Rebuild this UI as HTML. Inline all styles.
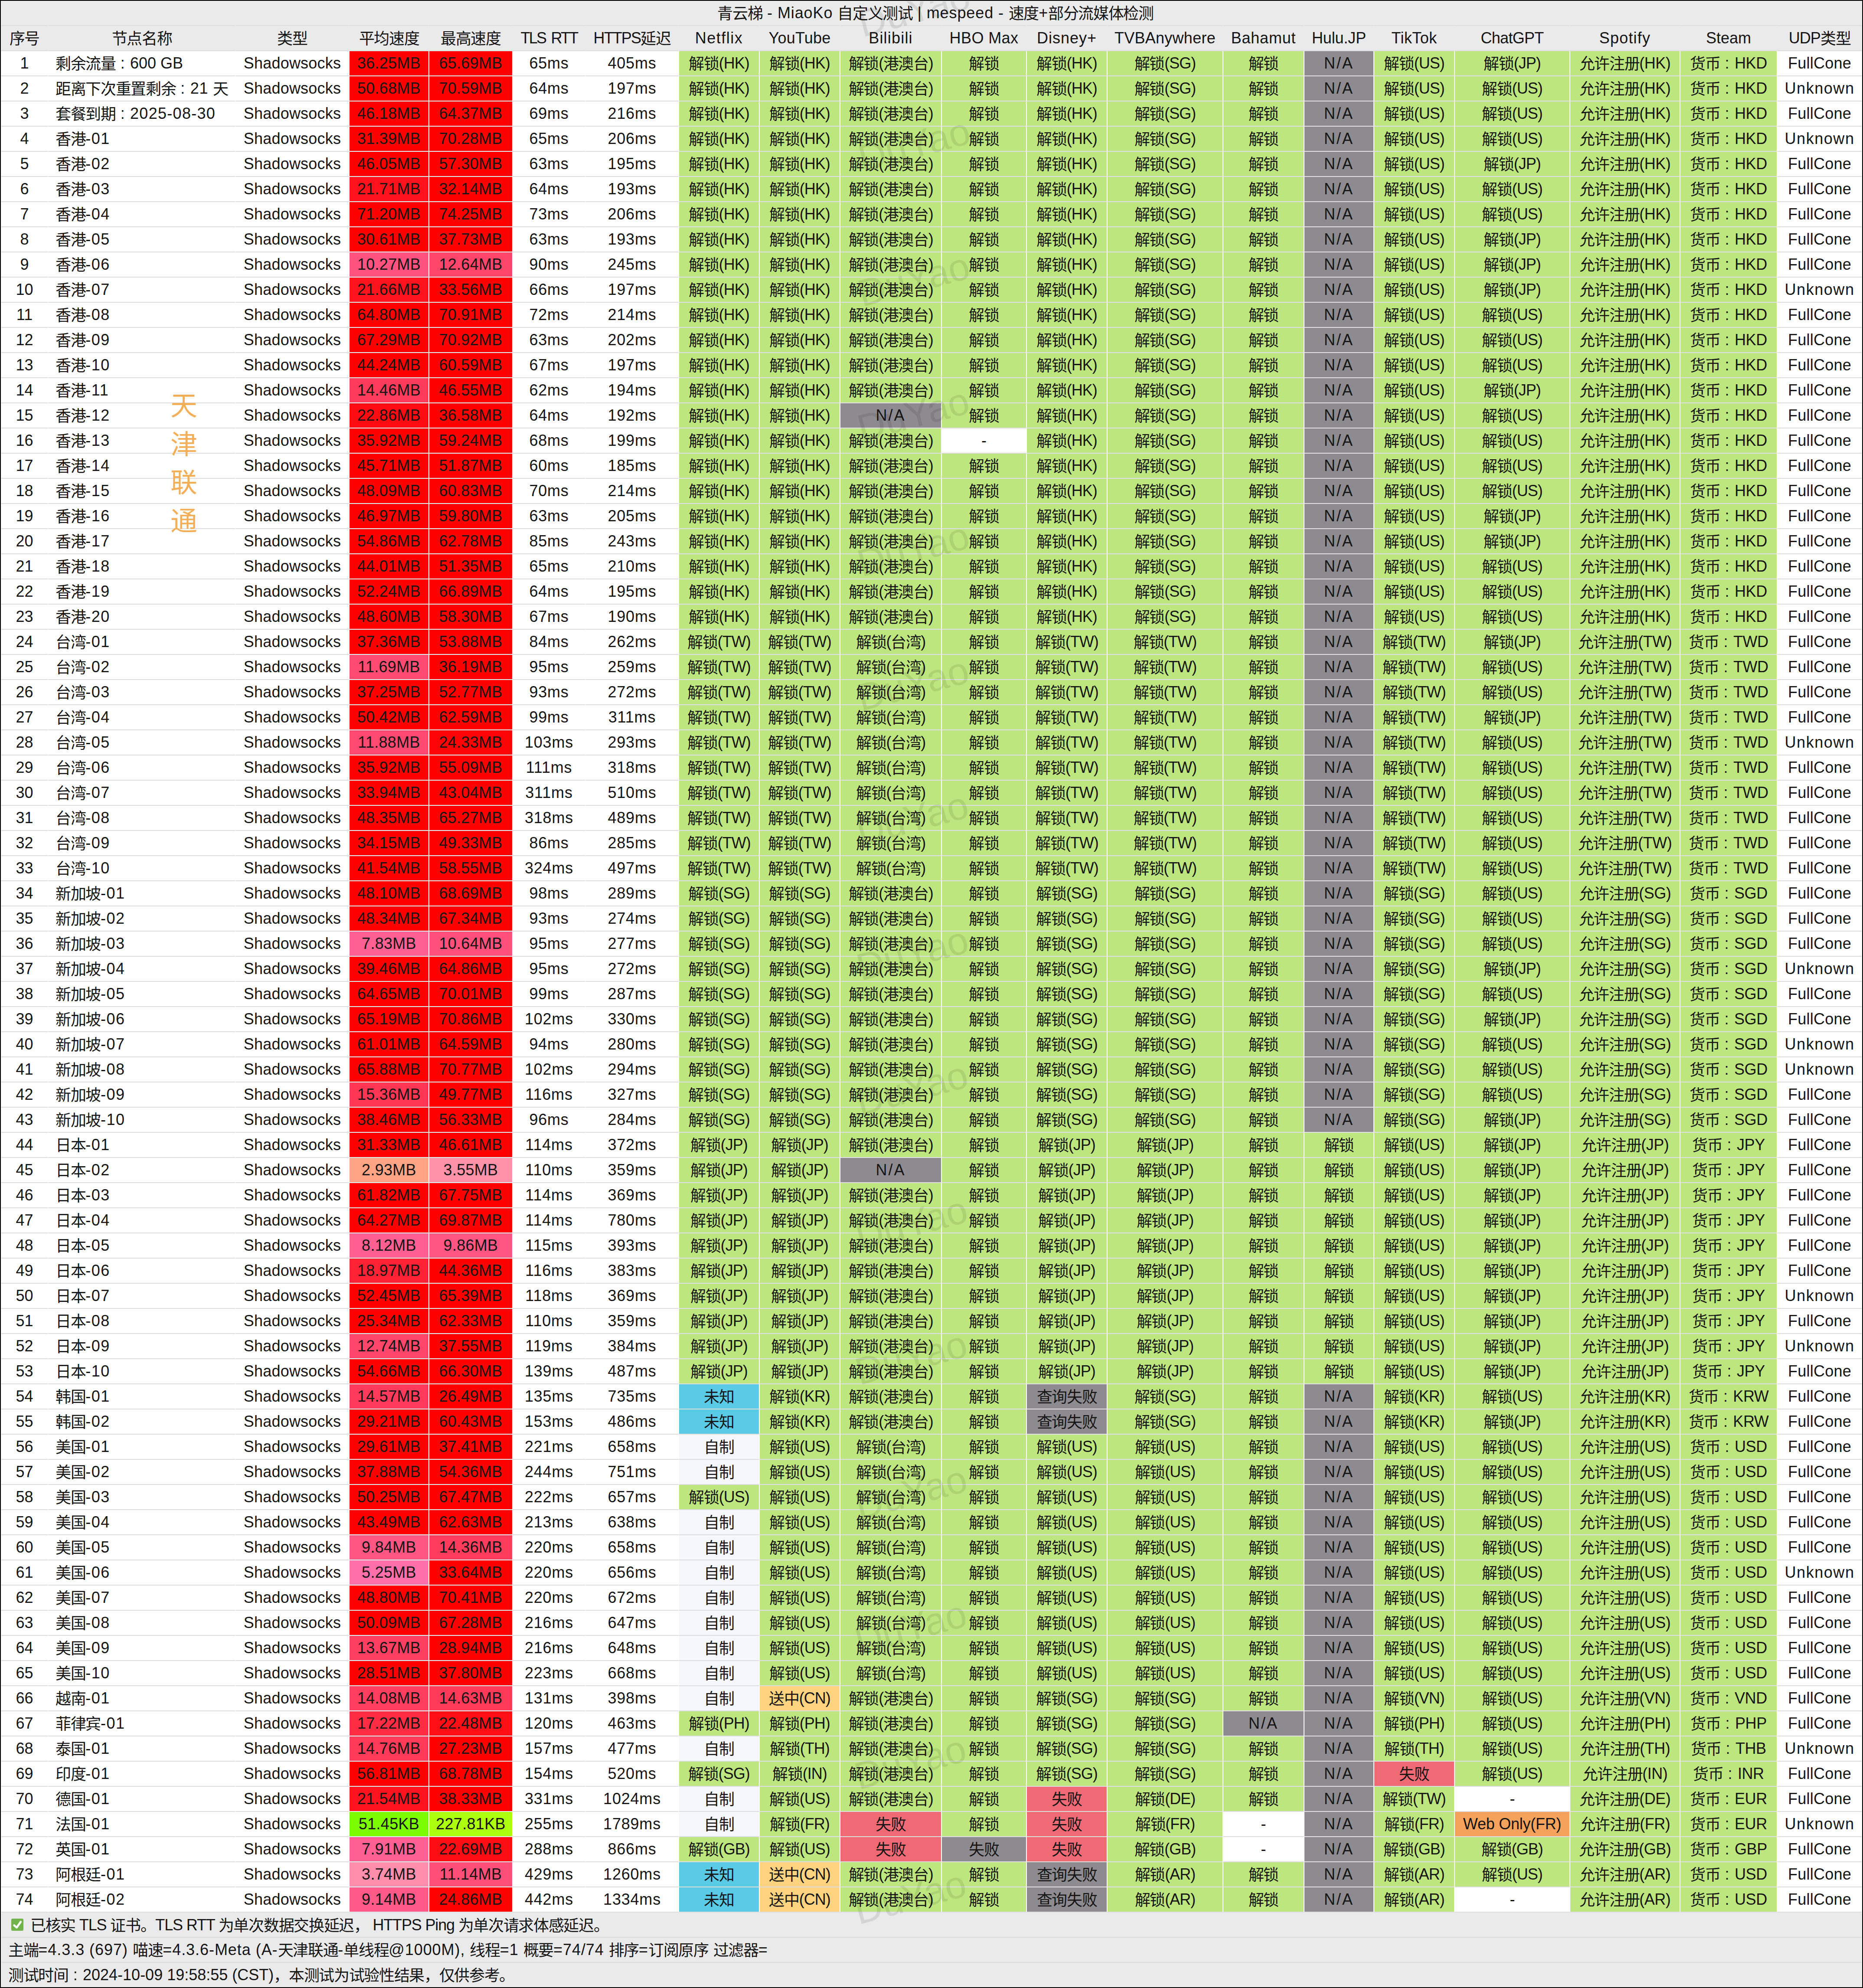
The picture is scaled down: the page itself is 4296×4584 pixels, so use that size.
<!DOCTYPE html>
<html lang="zh-CN"><head><meta charset="utf-8"><title>MiaoKo</title>
<style>

html,body{margin:0;padding:0;background:#000;}
body{width:4296px;height:4584px;position:relative;overflow:hidden;font-family:"Liberation Sans",sans-serif;font-size:36px;color:#151515;}
#fr{position:absolute;left:2px;top:2px;width:4292px;height:4580px;background:#fff;overflow:hidden;}
#t{position:absolute;left:0;top:-1px;width:4292px;}
.r{display:flex;height:58px;width:4292px;}
.r>div{box-sizing:border-box;height:58px;line-height:56px;text-align:center;white-space:nowrap;overflow:hidden;border:1px solid #fff;border-top-color:#ddd;border-bottom-color:#ddd;background:#fff;flex:0 0 auto;}
i{font-style:normal;position:relative;top:2px;font-size:36px;letter-spacing:-1.33px;}
b{display:inline-block;width:34.67px;margin-left:-1.33px;text-align:center;font-weight:normal;letter-spacing:0;}
.h>div{background:#eaeaea;border-color:#eaeaea;border-top:2px solid #dedede;border-bottom:1px solid #dcdcdc;line-height:55px;margin-top:-1px;height:59px;}
.tt{height:58px;line-height:58px;text-align:center;background:#eaeaea;width:4292px;box-sizing:border-box;padding-left:18px;letter-spacing:0.9px;}
.f{height:58px;line-height:57px;box-sizing:border-box;background:#eaeaea;border-top:1px solid #ddd;border-bottom:1px solid #ddd;padding-left:17px;white-space:nowrap;width:4292px;}
.g{background:#bde77e!important;border-top-color:#e0dde8!important;border-bottom-color:#e0dde8!important;}
.n{background:#8e8b90!important;border-top-color:#e2e2e2!important;border-bottom-color:#e2e2e2!important;}
.k{background:#5acbe7!important;}
.s{background:#f6f6fd!important;}
.o{background:#ffd37f!important;}
.x{background:#f06a75!important;}
.w{background:#f5a35c!important;}
.p{border-top-color:#dbf3f3!important;border-bottom-color:#dbf3f3!important;}
.nm{text-align:left!important;padding-left:16px;letter-spacing:1.5px;}
#vt{position:absolute;left:391px;top:891px;width:62px;font-size:62px;line-height:88.5px;color:#f3af58;text-align:center;}
.wm{position:absolute;left:1854px;width:500px;height:100px;line-height:100px;margin-top:-50px;text-align:center;font-size:88px;color:rgba(0,0,0,0.09);transform:rotate(-15deg);}
.r>div:nth-child(1){width:109px}
.r>div:nth-child(2){width:432px}
.r>div:nth-child(3){width:262px;letter-spacing:0.2px}
.r>div:nth-child(4){width:184px;letter-spacing:0.3px}
.r>div:nth-child(5){width:193px;letter-spacing:0.3px}
.r>div:nth-child(6){width:168px;letter-spacing:0.8px}
.r>div:nth-child(7){width:215px;letter-spacing:0.8px}
.r>div:nth-child(8){width:186px;letter-spacing:-1px}
.r>div:nth-child(9){width:186px;letter-spacing:-1px}
.r>div:nth-child(10){width:234px;letter-spacing:-1.5px}
.r>div:nth-child(11){width:196px}
.r>div:nth-child(12){width:186px;letter-spacing:-1px}
.r>div:nth-child(13){width:267px;letter-spacing:-1px}
.r>div:nth-child(14){width:187px}
.r>div:nth-child(15){width:161px}
.r>div:nth-child(16){width:186px;letter-spacing:-1px}
.r>div:nth-child(17){width:266px;letter-spacing:-1px}
.r>div:nth-child(18){width:254px;letter-spacing:-0.5px}
.r>div:nth-child(19){width:224px;letter-spacing:-0.4px}
.r>div:nth-child(20){width:196px;letter-spacing:0.25px}
.r>div.n{letter-spacing:3px}
.h>div{letter-spacing:0}
</style></head><body><div id="fr"><div id="t">
<div class="tt"><i>青云梯</i> - MiaoKo <i>自定义测试</i> | mespeed - <i>速度</i>+<i>部分流媒体检测</i></div>
<div class="r h"><div style="letter-spacing:0px"><i>序号</i></div><div style="letter-spacing:0px"><i>节点名称</i></div><div style="letter-spacing:0px"><i>类型</i></div><div style="letter-spacing:0px"><i>平均速度</i></div><div style="letter-spacing:0px"><i>最高速度</i></div><div style="letter-spacing:-2.8px;word-spacing:5px">TLS RTT</div><div style="letter-spacing:-1.9px">HTTPS<i>延迟</i></div><div style="letter-spacing:1.5px">Netflix</div><div style="letter-spacing:0.2px">YouTube</div><div style="letter-spacing:1.2px">Bilibili</div><div style="letter-spacing:0.4px">HBO Max</div><div style="letter-spacing:1px">Disney+</div><div style="letter-spacing:0.25px">TVBAnywhere</div><div style="letter-spacing:0.8px">Bahamut</div><div style="letter-spacing:-0.15px">Hulu.JP</div><div style="letter-spacing:0.4px">TikTok</div><div style="letter-spacing:-0.75px">ChatGPT</div><div style="letter-spacing:1.2px">Spotify</div><div style="letter-spacing:0px">Steam</div><div style="letter-spacing:-0.9px">UDP<i>类型</i></div></div>
<div class="r"><div>1</div><div class="nm" style="letter-spacing:0"><i>剩余流量</i><b>:</b>600 GB</div><div>Shadowsocks</div><div class="p" style="background:#ff0000">36.25MB</div><div class="p" style="background:#ff0000">65.69MB</div><div>65ms</div><div>405ms</div><div class="g"><i>解锁</i>(HK)</div><div class="g"><i>解锁</i>(HK)</div><div class="g"><i>解锁</i>(<i>港澳台</i>)</div><div class="g"><i>解锁</i></div><div class="g"><i>解锁</i>(HK)</div><div class="g"><i>解锁</i>(SG)</div><div class="g"><i>解锁</i></div><div class="n">N/A</div><div class="g"><i>解锁</i>(US)</div><div class="g"><i>解锁</i>(JP)</div><div class="g"><i>允许注册</i>(HK)</div><div class="g"><i>货币</i><b>:</b>HKD</div><div>FullCone</div></div>
<div class="r"><div>2</div><div class="nm" style="letter-spacing:.9px"><i>距离下次重置剩余</i><b>:</b>21 <i>天</i></div><div>Shadowsocks</div><div class="p" style="background:#ff0000">50.68MB</div><div class="p" style="background:#ff0000">70.59MB</div><div>64ms</div><div>197ms</div><div class="g"><i>解锁</i>(HK)</div><div class="g"><i>解锁</i>(HK)</div><div class="g"><i>解锁</i>(<i>港澳台</i>)</div><div class="g"><i>解锁</i></div><div class="g"><i>解锁</i>(HK)</div><div class="g"><i>解锁</i>(SG)</div><div class="g"><i>解锁</i></div><div class="n">N/A</div><div class="g"><i>解锁</i>(US)</div><div class="g"><i>解锁</i>(US)</div><div class="g"><i>允许注册</i>(HK)</div><div class="g"><i>货币</i><b>:</b>HKD</div><div style="letter-spacing:1.55px">Unknown</div></div>
<div class="r"><div>3</div><div class="nm" style="letter-spacing:1.3px"><i>套餐到期</i><b>:</b>2025-08-30</div><div>Shadowsocks</div><div class="p" style="background:#ff0000">46.18MB</div><div class="p" style="background:#ff0000">64.37MB</div><div>69ms</div><div>216ms</div><div class="g"><i>解锁</i>(HK)</div><div class="g"><i>解锁</i>(HK)</div><div class="g"><i>解锁</i>(<i>港澳台</i>)</div><div class="g"><i>解锁</i></div><div class="g"><i>解锁</i>(HK)</div><div class="g"><i>解锁</i>(SG)</div><div class="g"><i>解锁</i></div><div class="n">N/A</div><div class="g"><i>解锁</i>(US)</div><div class="g"><i>解锁</i>(US)</div><div class="g"><i>允许注册</i>(HK)</div><div class="g"><i>货币</i><b>:</b>HKD</div><div>FullCone</div></div>
<div class="r"><div>4</div><div class="nm"><i>香港</i>-01</div><div>Shadowsocks</div><div class="p" style="background:#ff0000">31.39MB</div><div class="p" style="background:#ff0000">70.28MB</div><div>65ms</div><div>206ms</div><div class="g"><i>解锁</i>(HK)</div><div class="g"><i>解锁</i>(HK)</div><div class="g"><i>解锁</i>(<i>港澳台</i>)</div><div class="g"><i>解锁</i></div><div class="g"><i>解锁</i>(HK)</div><div class="g"><i>解锁</i>(SG)</div><div class="g"><i>解锁</i></div><div class="n">N/A</div><div class="g"><i>解锁</i>(US)</div><div class="g"><i>解锁</i>(US)</div><div class="g"><i>允许注册</i>(HK)</div><div class="g"><i>货币</i><b>:</b>HKD</div><div style="letter-spacing:1.55px">Unknown</div></div>
<div class="r"><div>5</div><div class="nm"><i>香港</i>-02</div><div>Shadowsocks</div><div class="p" style="background:#ff0000">46.05MB</div><div class="p" style="background:#ff0000">57.30MB</div><div>63ms</div><div>195ms</div><div class="g"><i>解锁</i>(HK)</div><div class="g"><i>解锁</i>(HK)</div><div class="g"><i>解锁</i>(<i>港澳台</i>)</div><div class="g"><i>解锁</i></div><div class="g"><i>解锁</i>(HK)</div><div class="g"><i>解锁</i>(SG)</div><div class="g"><i>解锁</i></div><div class="n">N/A</div><div class="g"><i>解锁</i>(US)</div><div class="g"><i>解锁</i>(JP)</div><div class="g"><i>允许注册</i>(HK)</div><div class="g"><i>货币</i><b>:</b>HKD</div><div>FullCone</div></div>
<div class="r"><div>6</div><div class="nm"><i>香港</i>-03</div><div>Shadowsocks</div><div class="p" style="background:#ff121c">21.71MB</div><div class="p" style="background:#ff0000">32.14MB</div><div>64ms</div><div>193ms</div><div class="g"><i>解锁</i>(HK)</div><div class="g"><i>解锁</i>(HK)</div><div class="g"><i>解锁</i>(<i>港澳台</i>)</div><div class="g"><i>解锁</i></div><div class="g"><i>解锁</i>(HK)</div><div class="g"><i>解锁</i>(SG)</div><div class="g"><i>解锁</i></div><div class="n">N/A</div><div class="g"><i>解锁</i>(US)</div><div class="g"><i>解锁</i>(US)</div><div class="g"><i>允许注册</i>(HK)</div><div class="g"><i>货币</i><b>:</b>HKD</div><div>FullCone</div></div>
<div class="r"><div>7</div><div class="nm"><i>香港</i>-04</div><div>Shadowsocks</div><div class="p" style="background:#ff0000">71.20MB</div><div class="p" style="background:#ff0000">74.25MB</div><div>73ms</div><div>206ms</div><div class="g"><i>解锁</i>(HK)</div><div class="g"><i>解锁</i>(HK)</div><div class="g"><i>解锁</i>(<i>港澳台</i>)</div><div class="g"><i>解锁</i></div><div class="g"><i>解锁</i>(HK)</div><div class="g"><i>解锁</i>(SG)</div><div class="g"><i>解锁</i></div><div class="n">N/A</div><div class="g"><i>解锁</i>(US)</div><div class="g"><i>解锁</i>(US)</div><div class="g"><i>允许注册</i>(HK)</div><div class="g"><i>货币</i><b>:</b>HKD</div><div>FullCone</div></div>
<div class="r"><div>8</div><div class="nm"><i>香港</i>-05</div><div>Shadowsocks</div><div class="p" style="background:#ff0000">30.61MB</div><div class="p" style="background:#ff0000">37.73MB</div><div>63ms</div><div>193ms</div><div class="g"><i>解锁</i>(HK)</div><div class="g"><i>解锁</i>(HK)</div><div class="g"><i>解锁</i>(<i>港澳台</i>)</div><div class="g"><i>解锁</i></div><div class="g"><i>解锁</i>(HK)</div><div class="g"><i>解锁</i>(SG)</div><div class="g"><i>解锁</i></div><div class="n">N/A</div><div class="g"><i>解锁</i>(US)</div><div class="g"><i>解锁</i>(JP)</div><div class="g"><i>允许注册</i>(HK)</div><div class="g"><i>货币</i><b>:</b>HKD</div><div>FullCone</div></div>
<div class="r"><div>9</div><div class="nm"><i>香港</i>-06</div><div>Shadowsocks</div><div class="p" style="background:#ff527f">10.27MB</div><div class="p" style="background:#ff456a">12.64MB</div><div>90ms</div><div>245ms</div><div class="g"><i>解锁</i>(HK)</div><div class="g"><i>解锁</i>(HK)</div><div class="g"><i>解锁</i>(<i>港澳台</i>)</div><div class="g"><i>解锁</i></div><div class="g"><i>解锁</i>(HK)</div><div class="g"><i>解锁</i>(SG)</div><div class="g"><i>解锁</i></div><div class="n">N/A</div><div class="g"><i>解锁</i>(US)</div><div class="g"><i>解锁</i>(JP)</div><div class="g"><i>允许注册</i>(HK)</div><div class="g"><i>货币</i><b>:</b>HKD</div><div>FullCone</div></div>
<div class="r"><div>10</div><div class="nm"><i>香港</i>-07</div><div>Shadowsocks</div><div class="p" style="background:#ff131d">21.66MB</div><div class="p" style="background:#ff0000">33.56MB</div><div>66ms</div><div>197ms</div><div class="g"><i>解锁</i>(HK)</div><div class="g"><i>解锁</i>(HK)</div><div class="g"><i>解锁</i>(<i>港澳台</i>)</div><div class="g"><i>解锁</i></div><div class="g"><i>解锁</i>(HK)</div><div class="g"><i>解锁</i>(SG)</div><div class="g"><i>解锁</i></div><div class="n">N/A</div><div class="g"><i>解锁</i>(US)</div><div class="g"><i>解锁</i>(JP)</div><div class="g"><i>允许注册</i>(HK)</div><div class="g"><i>货币</i><b>:</b>HKD</div><div style="letter-spacing:1.55px">Unknown</div></div>
<div class="r"><div>11</div><div class="nm"><i>香港</i>-08</div><div>Shadowsocks</div><div class="p" style="background:#ff0000">64.80MB</div><div class="p" style="background:#ff0000">70.91MB</div><div>72ms</div><div>214ms</div><div class="g"><i>解锁</i>(HK)</div><div class="g"><i>解锁</i>(HK)</div><div class="g"><i>解锁</i>(<i>港澳台</i>)</div><div class="g"><i>解锁</i></div><div class="g"><i>解锁</i>(HK)</div><div class="g"><i>解锁</i>(SG)</div><div class="g"><i>解锁</i></div><div class="n">N/A</div><div class="g"><i>解锁</i>(US)</div><div class="g"><i>解锁</i>(US)</div><div class="g"><i>允许注册</i>(HK)</div><div class="g"><i>货币</i><b>:</b>HKD</div><div>FullCone</div></div>
<div class="r"><div>12</div><div class="nm"><i>香港</i>-09</div><div>Shadowsocks</div><div class="p" style="background:#ff0000">67.29MB</div><div class="p" style="background:#ff0000">70.92MB</div><div>63ms</div><div>202ms</div><div class="g"><i>解锁</i>(HK)</div><div class="g"><i>解锁</i>(HK)</div><div class="g"><i>解锁</i>(<i>港澳台</i>)</div><div class="g"><i>解锁</i></div><div class="g"><i>解锁</i>(HK)</div><div class="g"><i>解锁</i>(SG)</div><div class="g"><i>解锁</i></div><div class="n">N/A</div><div class="g"><i>解锁</i>(US)</div><div class="g"><i>解锁</i>(US)</div><div class="g"><i>允许注册</i>(HK)</div><div class="g"><i>货币</i><b>:</b>HKD</div><div>FullCone</div></div>
<div class="r"><div>13</div><div class="nm"><i>香港</i>-10</div><div>Shadowsocks</div><div class="p" style="background:#ff0000">44.24MB</div><div class="p" style="background:#ff0000">60.59MB</div><div>67ms</div><div>197ms</div><div class="g"><i>解锁</i>(HK)</div><div class="g"><i>解锁</i>(HK)</div><div class="g"><i>解锁</i>(<i>港澳台</i>)</div><div class="g"><i>解锁</i></div><div class="g"><i>解锁</i>(HK)</div><div class="g"><i>解锁</i>(SG)</div><div class="g"><i>解锁</i></div><div class="n">N/A</div><div class="g"><i>解锁</i>(US)</div><div class="g"><i>解锁</i>(US)</div><div class="g"><i>允许注册</i>(HK)</div><div class="g"><i>货币</i><b>:</b>HKD</div><div>FullCone</div></div>
<div class="r"><div>14</div><div class="nm"><i>香港</i>-11</div><div>Shadowsocks</div><div class="p" style="background:#ff3b5b">14.46MB</div><div class="p" style="background:#ff0000">46.55MB</div><div>62ms</div><div>194ms</div><div class="g"><i>解锁</i>(HK)</div><div class="g"><i>解锁</i>(HK)</div><div class="g"><i>解锁</i>(<i>港澳台</i>)</div><div class="g"><i>解锁</i></div><div class="g"><i>解锁</i>(HK)</div><div class="g"><i>解锁</i>(SG)</div><div class="g"><i>解锁</i></div><div class="n">N/A</div><div class="g"><i>解锁</i>(US)</div><div class="g"><i>解锁</i>(JP)</div><div class="g"><i>允许注册</i>(HK)</div><div class="g"><i>货币</i><b>:</b>HKD</div><div>FullCone</div></div>
<div class="r"><div>15</div><div class="nm"><i>香港</i>-12</div><div>Shadowsocks</div><div class="p" style="background:#ff0c12">22.86MB</div><div class="p" style="background:#ff0000">36.58MB</div><div>64ms</div><div>192ms</div><div class="g"><i>解锁</i>(HK)</div><div class="g"><i>解锁</i>(HK)</div><div class="n">N/A</div><div class="g"><i>解锁</i></div><div class="g"><i>解锁</i>(HK)</div><div class="g"><i>解锁</i>(SG)</div><div class="g"><i>解锁</i></div><div class="n">N/A</div><div class="g"><i>解锁</i>(US)</div><div class="g"><i>解锁</i>(US)</div><div class="g"><i>允许注册</i>(HK)</div><div class="g"><i>货币</i><b>:</b>HKD</div><div>FullCone</div></div>
<div class="r"><div>16</div><div class="nm"><i>香港</i>-13</div><div>Shadowsocks</div><div class="p" style="background:#ff0000">35.92MB</div><div class="p" style="background:#ff0000">59.24MB</div><div>68ms</div><div>199ms</div><div class="g"><i>解锁</i>(HK)</div><div class="g"><i>解锁</i>(HK)</div><div class="g"><i>解锁</i>(<i>港澳台</i>)</div><div>-</div><div class="g"><i>解锁</i>(HK)</div><div class="g"><i>解锁</i>(SG)</div><div class="g"><i>解锁</i></div><div class="n">N/A</div><div class="g"><i>解锁</i>(US)</div><div class="g"><i>解锁</i>(US)</div><div class="g"><i>允许注册</i>(HK)</div><div class="g"><i>货币</i><b>:</b>HKD</div><div>FullCone</div></div>
<div class="r"><div>17</div><div class="nm"><i>香港</i>-14</div><div>Shadowsocks</div><div class="p" style="background:#ff0000">45.71MB</div><div class="p" style="background:#ff0000">51.87MB</div><div>60ms</div><div>185ms</div><div class="g"><i>解锁</i>(HK)</div><div class="g"><i>解锁</i>(HK)</div><div class="g"><i>解锁</i>(<i>港澳台</i>)</div><div class="g"><i>解锁</i></div><div class="g"><i>解锁</i>(HK)</div><div class="g"><i>解锁</i>(SG)</div><div class="g"><i>解锁</i></div><div class="n">N/A</div><div class="g"><i>解锁</i>(US)</div><div class="g"><i>解锁</i>(US)</div><div class="g"><i>允许注册</i>(HK)</div><div class="g"><i>货币</i><b>:</b>HKD</div><div>FullCone</div></div>
<div class="r"><div>18</div><div class="nm"><i>香港</i>-15</div><div>Shadowsocks</div><div class="p" style="background:#ff0000">48.09MB</div><div class="p" style="background:#ff0000">60.83MB</div><div>70ms</div><div>214ms</div><div class="g"><i>解锁</i>(HK)</div><div class="g"><i>解锁</i>(HK)</div><div class="g"><i>解锁</i>(<i>港澳台</i>)</div><div class="g"><i>解锁</i></div><div class="g"><i>解锁</i>(HK)</div><div class="g"><i>解锁</i>(SG)</div><div class="g"><i>解锁</i></div><div class="n">N/A</div><div class="g"><i>解锁</i>(US)</div><div class="g"><i>解锁</i>(US)</div><div class="g"><i>允许注册</i>(HK)</div><div class="g"><i>货币</i><b>:</b>HKD</div><div>FullCone</div></div>
<div class="r"><div>19</div><div class="nm"><i>香港</i>-16</div><div>Shadowsocks</div><div class="p" style="background:#ff0000">46.97MB</div><div class="p" style="background:#ff0000">59.80MB</div><div>63ms</div><div>205ms</div><div class="g"><i>解锁</i>(HK)</div><div class="g"><i>解锁</i>(HK)</div><div class="g"><i>解锁</i>(<i>港澳台</i>)</div><div class="g"><i>解锁</i></div><div class="g"><i>解锁</i>(HK)</div><div class="g"><i>解锁</i>(SG)</div><div class="g"><i>解锁</i></div><div class="n">N/A</div><div class="g"><i>解锁</i>(US)</div><div class="g"><i>解锁</i>(JP)</div><div class="g"><i>允许注册</i>(HK)</div><div class="g"><i>货币</i><b>:</b>HKD</div><div>FullCone</div></div>
<div class="r"><div>20</div><div class="nm"><i>香港</i>-17</div><div>Shadowsocks</div><div class="p" style="background:#ff0000">54.86MB</div><div class="p" style="background:#ff0000">62.78MB</div><div>85ms</div><div>243ms</div><div class="g"><i>解锁</i>(HK)</div><div class="g"><i>解锁</i>(HK)</div><div class="g"><i>解锁</i>(<i>港澳台</i>)</div><div class="g"><i>解锁</i></div><div class="g"><i>解锁</i>(HK)</div><div class="g"><i>解锁</i>(SG)</div><div class="g"><i>解锁</i></div><div class="n">N/A</div><div class="g"><i>解锁</i>(US)</div><div class="g"><i>解锁</i>(JP)</div><div class="g"><i>允许注册</i>(HK)</div><div class="g"><i>货币</i><b>:</b>HKD</div><div>FullCone</div></div>
<div class="r"><div>21</div><div class="nm"><i>香港</i>-18</div><div>Shadowsocks</div><div class="p" style="background:#ff0000">44.01MB</div><div class="p" style="background:#ff0000">51.35MB</div><div>65ms</div><div>210ms</div><div class="g"><i>解锁</i>(HK)</div><div class="g"><i>解锁</i>(HK)</div><div class="g"><i>解锁</i>(<i>港澳台</i>)</div><div class="g"><i>解锁</i></div><div class="g"><i>解锁</i>(HK)</div><div class="g"><i>解锁</i>(SG)</div><div class="g"><i>解锁</i></div><div class="n">N/A</div><div class="g"><i>解锁</i>(US)</div><div class="g"><i>解锁</i>(US)</div><div class="g"><i>允许注册</i>(HK)</div><div class="g"><i>货币</i><b>:</b>HKD</div><div>FullCone</div></div>
<div class="r"><div>22</div><div class="nm"><i>香港</i>-19</div><div>Shadowsocks</div><div class="p" style="background:#ff0000">52.24MB</div><div class="p" style="background:#ff0000">66.89MB</div><div>64ms</div><div>195ms</div><div class="g"><i>解锁</i>(HK)</div><div class="g"><i>解锁</i>(HK)</div><div class="g"><i>解锁</i>(<i>港澳台</i>)</div><div class="g"><i>解锁</i></div><div class="g"><i>解锁</i>(HK)</div><div class="g"><i>解锁</i>(SG)</div><div class="g"><i>解锁</i></div><div class="n">N/A</div><div class="g"><i>解锁</i>(US)</div><div class="g"><i>解锁</i>(US)</div><div class="g"><i>允许注册</i>(HK)</div><div class="g"><i>货币</i><b>:</b>HKD</div><div>FullCone</div></div>
<div class="r"><div>23</div><div class="nm"><i>香港</i>-20</div><div>Shadowsocks</div><div class="p" style="background:#ff0000">48.60MB</div><div class="p" style="background:#ff0000">58.30MB</div><div>67ms</div><div>190ms</div><div class="g"><i>解锁</i>(HK)</div><div class="g"><i>解锁</i>(HK)</div><div class="g"><i>解锁</i>(<i>港澳台</i>)</div><div class="g"><i>解锁</i></div><div class="g"><i>解锁</i>(HK)</div><div class="g"><i>解锁</i>(SG)</div><div class="g"><i>解锁</i></div><div class="n">N/A</div><div class="g"><i>解锁</i>(US)</div><div class="g"><i>解锁</i>(US)</div><div class="g"><i>允许注册</i>(HK)</div><div class="g"><i>货币</i><b>:</b>HKD</div><div>FullCone</div></div>
<div class="r"><div>24</div><div class="nm"><i>台湾</i>-01</div><div>Shadowsocks</div><div class="p" style="background:#ff0000">37.36MB</div><div class="p" style="background:#ff0000">53.88MB</div><div>84ms</div><div>262ms</div><div class="g"><i>解锁</i>(TW)</div><div class="g"><i>解锁</i>(TW)</div><div class="g"><i>解锁</i>(<i>台湾</i>)</div><div class="g"><i>解锁</i></div><div class="g"><i>解锁</i>(TW)</div><div class="g"><i>解锁</i>(TW)</div><div class="g"><i>解锁</i></div><div class="n">N/A</div><div class="g"><i>解锁</i>(TW)</div><div class="g"><i>解锁</i>(JP)</div><div class="g"><i>允许注册</i>(TW)</div><div class="g"><i>货币</i><b>:</b>TWD</div><div>FullCone</div></div>
<div class="r"><div>25</div><div class="nm"><i>台湾</i>-02</div><div>Shadowsocks</div><div class="p" style="background:#ff4b72">11.69MB</div><div class="p" style="background:#ff0000">36.19MB</div><div>95ms</div><div>259ms</div><div class="g"><i>解锁</i>(TW)</div><div class="g"><i>解锁</i>(TW)</div><div class="g"><i>解锁</i>(<i>台湾</i>)</div><div class="g"><i>解锁</i></div><div class="g"><i>解锁</i>(TW)</div><div class="g"><i>解锁</i>(TW)</div><div class="g"><i>解锁</i></div><div class="n">N/A</div><div class="g"><i>解锁</i>(TW)</div><div class="g"><i>解锁</i>(US)</div><div class="g"><i>允许注册</i>(TW)</div><div class="g"><i>货币</i><b>:</b>TWD</div><div>FullCone</div></div>
<div class="r"><div>26</div><div class="nm"><i>台湾</i>-03</div><div>Shadowsocks</div><div class="p" style="background:#ff0000">37.25MB</div><div class="p" style="background:#ff0000">52.77MB</div><div>93ms</div><div>272ms</div><div class="g"><i>解锁</i>(TW)</div><div class="g"><i>解锁</i>(TW)</div><div class="g"><i>解锁</i>(<i>台湾</i>)</div><div class="g"><i>解锁</i></div><div class="g"><i>解锁</i>(TW)</div><div class="g"><i>解锁</i>(TW)</div><div class="g"><i>解锁</i></div><div class="n">N/A</div><div class="g"><i>解锁</i>(TW)</div><div class="g"><i>解锁</i>(US)</div><div class="g"><i>允许注册</i>(TW)</div><div class="g"><i>货币</i><b>:</b>TWD</div><div>FullCone</div></div>
<div class="r"><div>27</div><div class="nm"><i>台湾</i>-04</div><div>Shadowsocks</div><div class="p" style="background:#ff0000">50.42MB</div><div class="p" style="background:#ff0000">62.59MB</div><div>99ms</div><div>311ms</div><div class="g"><i>解锁</i>(TW)</div><div class="g"><i>解锁</i>(TW)</div><div class="g"><i>解锁</i>(<i>台湾</i>)</div><div class="g"><i>解锁</i></div><div class="g"><i>解锁</i>(TW)</div><div class="g"><i>解锁</i>(TW)</div><div class="g"><i>解锁</i></div><div class="n">N/A</div><div class="g"><i>解锁</i>(TW)</div><div class="g"><i>解锁</i>(JP)</div><div class="g"><i>允许注册</i>(TW)</div><div class="g"><i>货币</i><b>:</b>TWD</div><div>FullCone</div></div>
<div class="r"><div>28</div><div class="nm"><i>台湾</i>-05</div><div>Shadowsocks</div><div class="p" style="background:#ff4971">11.88MB</div><div class="p" style="background:#ff0406">24.33MB</div><div>103ms</div><div>293ms</div><div class="g"><i>解锁</i>(TW)</div><div class="g"><i>解锁</i>(TW)</div><div class="g"><i>解锁</i>(<i>台湾</i>)</div><div class="g"><i>解锁</i></div><div class="g"><i>解锁</i>(TW)</div><div class="g"><i>解锁</i>(TW)</div><div class="g"><i>解锁</i></div><div class="n">N/A</div><div class="g"><i>解锁</i>(TW)</div><div class="g"><i>解锁</i>(US)</div><div class="g"><i>允许注册</i>(TW)</div><div class="g"><i>货币</i><b>:</b>TWD</div><div style="letter-spacing:1.55px">Unknown</div></div>
<div class="r"><div>29</div><div class="nm"><i>台湾</i>-06</div><div>Shadowsocks</div><div class="p" style="background:#ff0000">35.92MB</div><div class="p" style="background:#ff0000">55.09MB</div><div>111ms</div><div>318ms</div><div class="g"><i>解锁</i>(TW)</div><div class="g"><i>解锁</i>(TW)</div><div class="g"><i>解锁</i>(<i>台湾</i>)</div><div class="g"><i>解锁</i></div><div class="g"><i>解锁</i>(TW)</div><div class="g"><i>解锁</i>(TW)</div><div class="g"><i>解锁</i></div><div class="n">N/A</div><div class="g"><i>解锁</i>(TW)</div><div class="g"><i>解锁</i>(US)</div><div class="g"><i>允许注册</i>(TW)</div><div class="g"><i>货币</i><b>:</b>TWD</div><div>FullCone</div></div>
<div class="r"><div>30</div><div class="nm"><i>台湾</i>-07</div><div>Shadowsocks</div><div class="p" style="background:#ff0000">33.94MB</div><div class="p" style="background:#ff0000">43.04MB</div><div>311ms</div><div>510ms</div><div class="g"><i>解锁</i>(TW)</div><div class="g"><i>解锁</i>(TW)</div><div class="g"><i>解锁</i>(<i>台湾</i>)</div><div class="g"><i>解锁</i></div><div class="g"><i>解锁</i>(TW)</div><div class="g"><i>解锁</i>(TW)</div><div class="g"><i>解锁</i></div><div class="n">N/A</div><div class="g"><i>解锁</i>(TW)</div><div class="g"><i>解锁</i>(US)</div><div class="g"><i>允许注册</i>(TW)</div><div class="g"><i>货币</i><b>:</b>TWD</div><div>FullCone</div></div>
<div class="r"><div>31</div><div class="nm"><i>台湾</i>-08</div><div>Shadowsocks</div><div class="p" style="background:#ff0000">48.35MB</div><div class="p" style="background:#ff0000">65.27MB</div><div>318ms</div><div>489ms</div><div class="g"><i>解锁</i>(TW)</div><div class="g"><i>解锁</i>(TW)</div><div class="g"><i>解锁</i>(<i>台湾</i>)</div><div class="g"><i>解锁</i></div><div class="g"><i>解锁</i>(TW)</div><div class="g"><i>解锁</i>(TW)</div><div class="g"><i>解锁</i></div><div class="n">N/A</div><div class="g"><i>解锁</i>(TW)</div><div class="g"><i>解锁</i>(US)</div><div class="g"><i>允许注册</i>(TW)</div><div class="g"><i>货币</i><b>:</b>TWD</div><div>FullCone</div></div>
<div class="r"><div>32</div><div class="nm"><i>台湾</i>-09</div><div>Shadowsocks</div><div class="p" style="background:#ff0000">34.15MB</div><div class="p" style="background:#ff0000">49.33MB</div><div>86ms</div><div>285ms</div><div class="g"><i>解锁</i>(TW)</div><div class="g"><i>解锁</i>(TW)</div><div class="g"><i>解锁</i>(<i>台湾</i>)</div><div class="g"><i>解锁</i></div><div class="g"><i>解锁</i>(TW)</div><div class="g"><i>解锁</i>(TW)</div><div class="g"><i>解锁</i></div><div class="n">N/A</div><div class="g"><i>解锁</i>(TW)</div><div class="g"><i>解锁</i>(US)</div><div class="g"><i>允许注册</i>(TW)</div><div class="g"><i>货币</i><b>:</b>TWD</div><div>FullCone</div></div>
<div class="r"><div>33</div><div class="nm"><i>台湾</i>-10</div><div>Shadowsocks</div><div class="p" style="background:#ff0000">41.54MB</div><div class="p" style="background:#ff0000">58.55MB</div><div>324ms</div><div>497ms</div><div class="g"><i>解锁</i>(TW)</div><div class="g"><i>解锁</i>(TW)</div><div class="g"><i>解锁</i>(<i>台湾</i>)</div><div class="g"><i>解锁</i></div><div class="g"><i>解锁</i>(TW)</div><div class="g"><i>解锁</i>(TW)</div><div class="g"><i>解锁</i></div><div class="n">N/A</div><div class="g"><i>解锁</i>(TW)</div><div class="g"><i>解锁</i>(US)</div><div class="g"><i>允许注册</i>(TW)</div><div class="g"><i>货币</i><b>:</b>TWD</div><div>FullCone</div></div>
<div class="r"><div>34</div><div class="nm"><i>新加坡</i>-01</div><div>Shadowsocks</div><div class="p" style="background:#ff0000">48.10MB</div><div class="p" style="background:#ff0000">68.69MB</div><div>98ms</div><div>289ms</div><div class="g"><i>解锁</i>(SG)</div><div class="g"><i>解锁</i>(SG)</div><div class="g"><i>解锁</i>(<i>港澳台</i>)</div><div class="g"><i>解锁</i></div><div class="g"><i>解锁</i>(SG)</div><div class="g"><i>解锁</i>(SG)</div><div class="g"><i>解锁</i></div><div class="n">N/A</div><div class="g"><i>解锁</i>(SG)</div><div class="g"><i>解锁</i>(US)</div><div class="g"><i>允许注册</i>(SG)</div><div class="g"><i>货币</i><b>:</b>SGD</div><div>FullCone</div></div>
<div class="r"><div>35</div><div class="nm"><i>新加坡</i>-02</div><div>Shadowsocks</div><div class="p" style="background:#ff0000">48.34MB</div><div class="p" style="background:#ff0000">67.34MB</div><div>93ms</div><div>274ms</div><div class="g"><i>解锁</i>(SG)</div><div class="g"><i>解锁</i>(SG)</div><div class="g"><i>解锁</i>(<i>港澳台</i>)</div><div class="g"><i>解锁</i></div><div class="g"><i>解锁</i>(SG)</div><div class="g"><i>解锁</i>(SG)</div><div class="g"><i>解锁</i></div><div class="n">N/A</div><div class="g"><i>解锁</i>(SG)</div><div class="g"><i>解锁</i>(US)</div><div class="g"><i>允许注册</i>(SG)</div><div class="g"><i>货币</i><b>:</b>SGD</div><div>FullCone</div></div>
<div class="r"><div>36</div><div class="nm"><i>新加坡</i>-03</div><div>Shadowsocks</div><div class="p" style="background:#ff6094">7.83MB</div><div class="p" style="background:#ff507b">10.64MB</div><div>95ms</div><div>277ms</div><div class="g"><i>解锁</i>(SG)</div><div class="g"><i>解锁</i>(SG)</div><div class="g"><i>解锁</i>(<i>港澳台</i>)</div><div class="g"><i>解锁</i></div><div class="g"><i>解锁</i>(SG)</div><div class="g"><i>解锁</i>(SG)</div><div class="g"><i>解锁</i></div><div class="n">N/A</div><div class="g"><i>解锁</i>(SG)</div><div class="g"><i>解锁</i>(US)</div><div class="g"><i>允许注册</i>(SG)</div><div class="g"><i>货币</i><b>:</b>SGD</div><div>FullCone</div></div>
<div class="r"><div>37</div><div class="nm"><i>新加坡</i>-04</div><div>Shadowsocks</div><div class="p" style="background:#ff0000">39.46MB</div><div class="p" style="background:#ff0000">64.86MB</div><div>95ms</div><div>272ms</div><div class="g"><i>解锁</i>(SG)</div><div class="g"><i>解锁</i>(SG)</div><div class="g"><i>解锁</i>(<i>港澳台</i>)</div><div class="g"><i>解锁</i></div><div class="g"><i>解锁</i>(SG)</div><div class="g"><i>解锁</i>(SG)</div><div class="g"><i>解锁</i></div><div class="n">N/A</div><div class="g"><i>解锁</i>(SG)</div><div class="g"><i>解锁</i>(JP)</div><div class="g"><i>允许注册</i>(SG)</div><div class="g"><i>货币</i><b>:</b>SGD</div><div style="letter-spacing:1.55px">Unknown</div></div>
<div class="r"><div>38</div><div class="nm"><i>新加坡</i>-05</div><div>Shadowsocks</div><div class="p" style="background:#ff0000">64.65MB</div><div class="p" style="background:#ff0000">70.01MB</div><div>99ms</div><div>287ms</div><div class="g"><i>解锁</i>(SG)</div><div class="g"><i>解锁</i>(SG)</div><div class="g"><i>解锁</i>(<i>港澳台</i>)</div><div class="g"><i>解锁</i></div><div class="g"><i>解锁</i>(SG)</div><div class="g"><i>解锁</i>(SG)</div><div class="g"><i>解锁</i></div><div class="n">N/A</div><div class="g"><i>解锁</i>(SG)</div><div class="g"><i>解锁</i>(US)</div><div class="g"><i>允许注册</i>(SG)</div><div class="g"><i>货币</i><b>:</b>SGD</div><div>FullCone</div></div>
<div class="r"><div>39</div><div class="nm"><i>新加坡</i>-06</div><div>Shadowsocks</div><div class="p" style="background:#ff0000">65.19MB</div><div class="p" style="background:#ff0000">70.86MB</div><div>102ms</div><div>330ms</div><div class="g"><i>解锁</i>(SG)</div><div class="g"><i>解锁</i>(SG)</div><div class="g"><i>解锁</i>(<i>港澳台</i>)</div><div class="g"><i>解锁</i></div><div class="g"><i>解锁</i>(SG)</div><div class="g"><i>解锁</i>(SG)</div><div class="g"><i>解锁</i></div><div class="n">N/A</div><div class="g"><i>解锁</i>(SG)</div><div class="g"><i>解锁</i>(JP)</div><div class="g"><i>允许注册</i>(SG)</div><div class="g"><i>货币</i><b>:</b>SGD</div><div>FullCone</div></div>
<div class="r"><div>40</div><div class="nm"><i>新加坡</i>-07</div><div>Shadowsocks</div><div class="p" style="background:#ff0000">61.01MB</div><div class="p" style="background:#ff0000">64.59MB</div><div>94ms</div><div>280ms</div><div class="g"><i>解锁</i>(SG)</div><div class="g"><i>解锁</i>(SG)</div><div class="g"><i>解锁</i>(<i>港澳台</i>)</div><div class="g"><i>解锁</i></div><div class="g"><i>解锁</i>(SG)</div><div class="g"><i>解锁</i>(SG)</div><div class="g"><i>解锁</i></div><div class="n">N/A</div><div class="g"><i>解锁</i>(SG)</div><div class="g"><i>解锁</i>(US)</div><div class="g"><i>允许注册</i>(SG)</div><div class="g"><i>货币</i><b>:</b>SGD</div><div style="letter-spacing:1.55px">Unknown</div></div>
<div class="r"><div>41</div><div class="nm"><i>新加坡</i>-08</div><div>Shadowsocks</div><div class="p" style="background:#ff0000">65.88MB</div><div class="p" style="background:#ff0000">70.77MB</div><div>102ms</div><div>294ms</div><div class="g"><i>解锁</i>(SG)</div><div class="g"><i>解锁</i>(SG)</div><div class="g"><i>解锁</i>(<i>港澳台</i>)</div><div class="g"><i>解锁</i></div><div class="g"><i>解锁</i>(SG)</div><div class="g"><i>解锁</i>(SG)</div><div class="g"><i>解锁</i></div><div class="n">N/A</div><div class="g"><i>解锁</i>(SG)</div><div class="g"><i>解锁</i>(US)</div><div class="g"><i>允许注册</i>(SG)</div><div class="g"><i>货币</i><b>:</b>SGD</div><div style="letter-spacing:1.55px">Unknown</div></div>
<div class="r"><div>42</div><div class="nm"><i>新加坡</i>-09</div><div>Shadowsocks</div><div class="p" style="background:#ff3653">15.36MB</div><div class="p" style="background:#ff0000">49.77MB</div><div>116ms</div><div>327ms</div><div class="g"><i>解锁</i>(SG)</div><div class="g"><i>解锁</i>(SG)</div><div class="g"><i>解锁</i>(<i>港澳台</i>)</div><div class="g"><i>解锁</i></div><div class="g"><i>解锁</i>(SG)</div><div class="g"><i>解锁</i>(SG)</div><div class="g"><i>解锁</i></div><div class="n">N/A</div><div class="g"><i>解锁</i>(SG)</div><div class="g"><i>解锁</i>(US)</div><div class="g"><i>允许注册</i>(SG)</div><div class="g"><i>货币</i><b>:</b>SGD</div><div>FullCone</div></div>
<div class="r"><div>43</div><div class="nm"><i>新加坡</i>-10</div><div>Shadowsocks</div><div class="p" style="background:#ff0000">38.46MB</div><div class="p" style="background:#ff0000">56.33MB</div><div>96ms</div><div>284ms</div><div class="g"><i>解锁</i>(SG)</div><div class="g"><i>解锁</i>(SG)</div><div class="g"><i>解锁</i>(<i>港澳台</i>)</div><div class="g"><i>解锁</i></div><div class="g"><i>解锁</i>(SG)</div><div class="g"><i>解锁</i>(SG)</div><div class="g"><i>解锁</i></div><div class="n">N/A</div><div class="g"><i>解锁</i>(SG)</div><div class="g"><i>解锁</i>(JP)</div><div class="g"><i>允许注册</i>(SG)</div><div class="g"><i>货币</i><b>:</b>SGD</div><div>FullCone</div></div>
<div class="r"><div>44</div><div class="nm"><i>日本</i>-01</div><div>Shadowsocks</div><div class="p" style="background:#ff0000">31.33MB</div><div class="p" style="background:#ff0000">46.61MB</div><div>114ms</div><div>372ms</div><div class="g"><i>解锁</i>(JP)</div><div class="g"><i>解锁</i>(JP)</div><div class="g"><i>解锁</i>(<i>港澳台</i>)</div><div class="g"><i>解锁</i></div><div class="g"><i>解锁</i>(JP)</div><div class="g"><i>解锁</i>(JP)</div><div class="g"><i>解锁</i></div><div class="g"><i>解锁</i></div><div class="g"><i>解锁</i>(US)</div><div class="g"><i>解锁</i>(JP)</div><div class="g"><i>允许注册</i>(JP)</div><div class="g"><i>货币</i><b>:</b>JPY</div><div>FullCone</div></div>
<div class="r"><div>45</div><div class="nm"><i>日本</i>-02</div><div>Shadowsocks</div><div class="p" style="background:#ffa585">2.93MB</div><div class="p" style="background:#ff91a8">3.55MB</div><div>110ms</div><div>359ms</div><div class="g"><i>解锁</i>(JP)</div><div class="g"><i>解锁</i>(JP)</div><div class="n">N/A</div><div class="g"><i>解锁</i></div><div class="g"><i>解锁</i>(JP)</div><div class="g"><i>解锁</i>(JP)</div><div class="g"><i>解锁</i></div><div class="g"><i>解锁</i></div><div class="g"><i>解锁</i>(US)</div><div class="g"><i>解锁</i>(JP)</div><div class="g"><i>允许注册</i>(JP)</div><div class="g"><i>货币</i><b>:</b>JPY</div><div>FullCone</div></div>
<div class="r"><div>46</div><div class="nm"><i>日本</i>-03</div><div>Shadowsocks</div><div class="p" style="background:#ff0000">61.82MB</div><div class="p" style="background:#ff0000">67.75MB</div><div>114ms</div><div>369ms</div><div class="g"><i>解锁</i>(JP)</div><div class="g"><i>解锁</i>(JP)</div><div class="g"><i>解锁</i>(<i>港澳台</i>)</div><div class="g"><i>解锁</i></div><div class="g"><i>解锁</i>(JP)</div><div class="g"><i>解锁</i>(JP)</div><div class="g"><i>解锁</i></div><div class="g"><i>解锁</i></div><div class="g"><i>解锁</i>(US)</div><div class="g"><i>解锁</i>(JP)</div><div class="g"><i>允许注册</i>(JP)</div><div class="g"><i>货币</i><b>:</b>JPY</div><div>FullCone</div></div>
<div class="r"><div>47</div><div class="nm"><i>日本</i>-04</div><div>Shadowsocks</div><div class="p" style="background:#ff0000">64.27MB</div><div class="p" style="background:#ff0000">69.87MB</div><div>114ms</div><div>780ms</div><div class="g"><i>解锁</i>(JP)</div><div class="g"><i>解锁</i>(JP)</div><div class="g"><i>解锁</i>(<i>港澳台</i>)</div><div class="g"><i>解锁</i></div><div class="g"><i>解锁</i>(JP)</div><div class="g"><i>解锁</i>(JP)</div><div class="g"><i>解锁</i></div><div class="g"><i>解锁</i></div><div class="g"><i>解锁</i>(US)</div><div class="g"><i>解锁</i>(JP)</div><div class="g"><i>允许注册</i>(JP)</div><div class="g"><i>货币</i><b>:</b>JPY</div><div>FullCone</div></div>
<div class="r"><div>48</div><div class="nm"><i>日本</i>-05</div><div>Shadowsocks</div><div class="p" style="background:#ff5f91">8.12MB</div><div class="p" style="background:#ff5582">9.86MB</div><div>115ms</div><div>393ms</div><div class="g"><i>解锁</i>(JP)</div><div class="g"><i>解锁</i>(JP)</div><div class="g"><i>解锁</i>(<i>港澳台</i>)</div><div class="g"><i>解锁</i></div><div class="g"><i>解锁</i>(JP)</div><div class="g"><i>解锁</i>(JP)</div><div class="g"><i>解锁</i></div><div class="g"><i>解锁</i></div><div class="g"><i>解锁</i>(US)</div><div class="g"><i>解锁</i>(JP)</div><div class="g"><i>允许注册</i>(JP)</div><div class="g"><i>货币</i><b>:</b>JPY</div><div>FullCone</div></div>
<div class="r"><div>49</div><div class="nm"><i>日本</i>-06</div><div>Shadowsocks</div><div class="p" style="background:#ff2234">18.97MB</div><div class="p" style="background:#ff0000">44.36MB</div><div>116ms</div><div>383ms</div><div class="g"><i>解锁</i>(JP)</div><div class="g"><i>解锁</i>(JP)</div><div class="g"><i>解锁</i>(<i>港澳台</i>)</div><div class="g"><i>解锁</i></div><div class="g"><i>解锁</i>(JP)</div><div class="g"><i>解锁</i>(JP)</div><div class="g"><i>解锁</i></div><div class="g"><i>解锁</i></div><div class="g"><i>解锁</i>(US)</div><div class="g"><i>解锁</i>(JP)</div><div class="g"><i>允许注册</i>(JP)</div><div class="g"><i>货币</i><b>:</b>JPY</div><div>FullCone</div></div>
<div class="r"><div>50</div><div class="nm"><i>日本</i>-07</div><div>Shadowsocks</div><div class="p" style="background:#ff0000">52.45MB</div><div class="p" style="background:#ff0000">65.39MB</div><div>118ms</div><div>369ms</div><div class="g"><i>解锁</i>(JP)</div><div class="g"><i>解锁</i>(JP)</div><div class="g"><i>解锁</i>(<i>港澳台</i>)</div><div class="g"><i>解锁</i></div><div class="g"><i>解锁</i>(JP)</div><div class="g"><i>解锁</i>(JP)</div><div class="g"><i>解锁</i></div><div class="g"><i>解锁</i></div><div class="g"><i>解锁</i>(US)</div><div class="g"><i>解锁</i>(JP)</div><div class="g"><i>允许注册</i>(JP)</div><div class="g"><i>货币</i><b>:</b>JPY</div><div style="letter-spacing:1.55px">Unknown</div></div>
<div class="r"><div>51</div><div class="nm"><i>日本</i>-08</div><div>Shadowsocks</div><div class="p" style="background:#ff0000">25.34MB</div><div class="p" style="background:#ff0000">62.33MB</div><div>110ms</div><div>359ms</div><div class="g"><i>解锁</i>(JP)</div><div class="g"><i>解锁</i>(JP)</div><div class="g"><i>解锁</i>(<i>港澳台</i>)</div><div class="g"><i>解锁</i></div><div class="g"><i>解锁</i>(JP)</div><div class="g"><i>解锁</i>(JP)</div><div class="g"><i>解锁</i></div><div class="g"><i>解锁</i></div><div class="g"><i>解锁</i>(US)</div><div class="g"><i>解锁</i>(JP)</div><div class="g"><i>允许注册</i>(JP)</div><div class="g"><i>货币</i><b>:</b>JPY</div><div>FullCone</div></div>
<div class="r"><div>52</div><div class="nm"><i>日本</i>-09</div><div>Shadowsocks</div><div class="p" style="background:#ff4569">12.74MB</div><div class="p" style="background:#ff0000">37.55MB</div><div>119ms</div><div>384ms</div><div class="g"><i>解锁</i>(JP)</div><div class="g"><i>解锁</i>(JP)</div><div class="g"><i>解锁</i>(<i>港澳台</i>)</div><div class="g"><i>解锁</i></div><div class="g"><i>解锁</i>(JP)</div><div class="g"><i>解锁</i>(JP)</div><div class="g"><i>解锁</i></div><div class="g"><i>解锁</i></div><div class="g"><i>解锁</i>(US)</div><div class="g"><i>解锁</i>(JP)</div><div class="g"><i>允许注册</i>(JP)</div><div class="g"><i>货币</i><b>:</b>JPY</div><div style="letter-spacing:1.55px">Unknown</div></div>
<div class="r"><div>53</div><div class="nm"><i>日本</i>-10</div><div>Shadowsocks</div><div class="p" style="background:#ff0000">54.66MB</div><div class="p" style="background:#ff0000">66.30MB</div><div>139ms</div><div>487ms</div><div class="g"><i>解锁</i>(JP)</div><div class="g"><i>解锁</i>(JP)</div><div class="g"><i>解锁</i>(<i>港澳台</i>)</div><div class="g"><i>解锁</i></div><div class="g"><i>解锁</i>(JP)</div><div class="g"><i>解锁</i>(JP)</div><div class="g"><i>解锁</i></div><div class="g"><i>解锁</i></div><div class="g"><i>解锁</i>(US)</div><div class="g"><i>解锁</i>(JP)</div><div class="g"><i>允许注册</i>(JP)</div><div class="g"><i>货币</i><b>:</b>JPY</div><div>FullCone</div></div>
<div class="r"><div>54</div><div class="nm"><i>韩国</i>-01</div><div>Shadowsocks</div><div class="p" style="background:#ff3a5a">14.57MB</div><div class="p" style="background:#ff0000">26.49MB</div><div>135ms</div><div>735ms</div><div class="k"><i>未知</i></div><div class="g"><i>解锁</i>(KR)</div><div class="g"><i>解锁</i>(<i>港澳台</i>)</div><div class="g"><i>解锁</i></div><div class="n"><i>查询失败</i></div><div class="g"><i>解锁</i>(SG)</div><div class="g"><i>解锁</i></div><div class="n">N/A</div><div class="g"><i>解锁</i>(KR)</div><div class="g"><i>解锁</i>(US)</div><div class="g"><i>允许注册</i>(KR)</div><div class="g"><i>货币</i><b>:</b>KRW</div><div>FullCone</div></div>
<div class="r"><div>55</div><div class="nm"><i>韩国</i>-02</div><div>Shadowsocks</div><div class="p" style="background:#ff0000">29.21MB</div><div class="p" style="background:#ff0000">60.43MB</div><div>153ms</div><div>486ms</div><div class="k"><i>未知</i></div><div class="g"><i>解锁</i>(KR)</div><div class="g"><i>解锁</i>(<i>港澳台</i>)</div><div class="g"><i>解锁</i></div><div class="n"><i>查询失败</i></div><div class="g"><i>解锁</i>(SG)</div><div class="g"><i>解锁</i></div><div class="n">N/A</div><div class="g"><i>解锁</i>(KR)</div><div class="g"><i>解锁</i>(JP)</div><div class="g"><i>允许注册</i>(KR)</div><div class="g"><i>货币</i><b>:</b>KRW</div><div>FullCone</div></div>
<div class="r"><div>56</div><div class="nm"><i>美国</i>-01</div><div>Shadowsocks</div><div class="p" style="background:#ff0000">29.61MB</div><div class="p" style="background:#ff0000">37.41MB</div><div>221ms</div><div>658ms</div><div class="s"><i>自制</i></div><div class="g"><i>解锁</i>(US)</div><div class="g"><i>解锁</i>(<i>台湾</i>)</div><div class="g"><i>解锁</i></div><div class="g"><i>解锁</i>(US)</div><div class="g"><i>解锁</i>(US)</div><div class="g"><i>解锁</i></div><div class="n">N/A</div><div class="g"><i>解锁</i>(US)</div><div class="g"><i>解锁</i>(US)</div><div class="g"><i>允许注册</i>(US)</div><div class="g"><i>货币</i><b>:</b>USD</div><div>FullCone</div></div>
<div class="r"><div>57</div><div class="nm"><i>美国</i>-02</div><div>Shadowsocks</div><div class="p" style="background:#ff0000">37.88MB</div><div class="p" style="background:#ff0000">54.36MB</div><div>244ms</div><div>751ms</div><div class="s"><i>自制</i></div><div class="g"><i>解锁</i>(US)</div><div class="g"><i>解锁</i>(<i>台湾</i>)</div><div class="g"><i>解锁</i></div><div class="g"><i>解锁</i>(US)</div><div class="g"><i>解锁</i>(US)</div><div class="g"><i>解锁</i></div><div class="n">N/A</div><div class="g"><i>解锁</i>(US)</div><div class="g"><i>解锁</i>(US)</div><div class="g"><i>允许注册</i>(US)</div><div class="g"><i>货币</i><b>:</b>USD</div><div>FullCone</div></div>
<div class="r"><div>58</div><div class="nm"><i>美国</i>-03</div><div>Shadowsocks</div><div class="p" style="background:#ff0000">50.25MB</div><div class="p" style="background:#ff0000">67.47MB</div><div>222ms</div><div>657ms</div><div class="g"><i>解锁</i>(US)</div><div class="g"><i>解锁</i>(US)</div><div class="g"><i>解锁</i>(<i>台湾</i>)</div><div class="g"><i>解锁</i></div><div class="g"><i>解锁</i>(US)</div><div class="g"><i>解锁</i>(US)</div><div class="g"><i>解锁</i></div><div class="n">N/A</div><div class="g"><i>解锁</i>(US)</div><div class="g"><i>解锁</i>(US)</div><div class="g"><i>允许注册</i>(US)</div><div class="g"><i>货币</i><b>:</b>USD</div><div>FullCone</div></div>
<div class="r"><div>59</div><div class="nm"><i>美国</i>-04</div><div>Shadowsocks</div><div class="p" style="background:#ff0000">43.49MB</div><div class="p" style="background:#ff0000">62.63MB</div><div>213ms</div><div>638ms</div><div class="s"><i>自制</i></div><div class="g"><i>解锁</i>(US)</div><div class="g"><i>解锁</i>(<i>台湾</i>)</div><div class="g"><i>解锁</i></div><div class="g"><i>解锁</i>(US)</div><div class="g"><i>解锁</i>(US)</div><div class="g"><i>解锁</i></div><div class="n">N/A</div><div class="g"><i>解锁</i>(US)</div><div class="g"><i>解锁</i>(US)</div><div class="g"><i>允许注册</i>(US)</div><div class="g"><i>货币</i><b>:</b>USD</div><div>FullCone</div></div>
<div class="r"><div>60</div><div class="nm"><i>美国</i>-05</div><div>Shadowsocks</div><div class="p" style="background:#ff5582">9.84MB</div><div class="p" style="background:#ff3c5c">14.36MB</div><div>220ms</div><div>658ms</div><div class="s"><i>自制</i></div><div class="g"><i>解锁</i>(US)</div><div class="g"><i>解锁</i>(<i>台湾</i>)</div><div class="g"><i>解锁</i></div><div class="g"><i>解锁</i>(US)</div><div class="g"><i>解锁</i>(US)</div><div class="g"><i>解锁</i></div><div class="n">N/A</div><div class="g"><i>解锁</i>(US)</div><div class="g"><i>解锁</i>(US)</div><div class="g"><i>允许注册</i>(US)</div><div class="g"><i>货币</i><b>:</b>USD</div><div>FullCone</div></div>
<div class="r"><div>61</div><div class="nm"><i>美国</i>-06</div><div>Shadowsocks</div><div class="p" style="background:#ff6faa">5.25MB</div><div class="p" style="background:#ff0000">33.64MB</div><div>220ms</div><div>656ms</div><div class="s"><i>自制</i></div><div class="g"><i>解锁</i>(US)</div><div class="g"><i>解锁</i>(<i>台湾</i>)</div><div class="g"><i>解锁</i></div><div class="g"><i>解锁</i>(US)</div><div class="g"><i>解锁</i>(US)</div><div class="g"><i>解锁</i></div><div class="n">N/A</div><div class="g"><i>解锁</i>(US)</div><div class="g"><i>解锁</i>(US)</div><div class="g"><i>允许注册</i>(US)</div><div class="g"><i>货币</i><b>:</b>USD</div><div style="letter-spacing:1.55px">Unknown</div></div>
<div class="r"><div>62</div><div class="nm"><i>美国</i>-07</div><div>Shadowsocks</div><div class="p" style="background:#ff0000">48.80MB</div><div class="p" style="background:#ff0000">70.41MB</div><div>220ms</div><div>672ms</div><div class="s"><i>自制</i></div><div class="g"><i>解锁</i>(US)</div><div class="g"><i>解锁</i>(<i>台湾</i>)</div><div class="g"><i>解锁</i></div><div class="g"><i>解锁</i>(US)</div><div class="g"><i>解锁</i>(US)</div><div class="g"><i>解锁</i></div><div class="n">N/A</div><div class="g"><i>解锁</i>(US)</div><div class="g"><i>解锁</i>(US)</div><div class="g"><i>允许注册</i>(US)</div><div class="g"><i>货币</i><b>:</b>USD</div><div>FullCone</div></div>
<div class="r"><div>63</div><div class="nm"><i>美国</i>-08</div><div>Shadowsocks</div><div class="p" style="background:#ff0000">50.09MB</div><div class="p" style="background:#ff0000">67.28MB</div><div>216ms</div><div>647ms</div><div class="s"><i>自制</i></div><div class="g"><i>解锁</i>(US)</div><div class="g"><i>解锁</i>(<i>台湾</i>)</div><div class="g"><i>解锁</i></div><div class="g"><i>解锁</i>(US)</div><div class="g"><i>解锁</i>(US)</div><div class="g"><i>解锁</i></div><div class="n">N/A</div><div class="g"><i>解锁</i>(US)</div><div class="g"><i>解锁</i>(US)</div><div class="g"><i>允许注册</i>(US)</div><div class="g"><i>货币</i><b>:</b>USD</div><div>FullCone</div></div>
<div class="r"><div>64</div><div class="nm"><i>美国</i>-09</div><div>Shadowsocks</div><div class="p" style="background:#ff3f61">13.67MB</div><div class="p" style="background:#ff0000">28.94MB</div><div>216ms</div><div>648ms</div><div class="s"><i>自制</i></div><div class="g"><i>解锁</i>(US)</div><div class="g"><i>解锁</i>(<i>台湾</i>)</div><div class="g"><i>解锁</i></div><div class="g"><i>解锁</i>(US)</div><div class="g"><i>解锁</i>(US)</div><div class="g"><i>解锁</i></div><div class="n">N/A</div><div class="g"><i>解锁</i>(US)</div><div class="g"><i>解锁</i>(US)</div><div class="g"><i>允许注册</i>(US)</div><div class="g"><i>货币</i><b>:</b>USD</div><div>FullCone</div></div>
<div class="r"><div>65</div><div class="nm"><i>美国</i>-10</div><div>Shadowsocks</div><div class="p" style="background:#ff0000">28.51MB</div><div class="p" style="background:#ff0000">37.80MB</div><div>223ms</div><div>668ms</div><div class="s"><i>自制</i></div><div class="g"><i>解锁</i>(US)</div><div class="g"><i>解锁</i>(<i>台湾</i>)</div><div class="g"><i>解锁</i></div><div class="g"><i>解锁</i>(US)</div><div class="g"><i>解锁</i>(US)</div><div class="g"><i>解锁</i></div><div class="n">N/A</div><div class="g"><i>解锁</i>(US)</div><div class="g"><i>解锁</i>(US)</div><div class="g"><i>允许注册</i>(US)</div><div class="g"><i>货币</i><b>:</b>USD</div><div>FullCone</div></div>
<div class="r"><div>66</div><div class="nm"><i>越南</i>-01</div><div>Shadowsocks</div><div class="p" style="background:#ff3d5e">14.08MB</div><div class="p" style="background:#ff3a59">14.63MB</div><div>131ms</div><div>398ms</div><div class="s"><i>自制</i></div><div class="o"><i>送中</i>(CN)</div><div class="g"><i>解锁</i>(<i>港澳台</i>)</div><div class="g"><i>解锁</i></div><div class="g"><i>解锁</i>(SG)</div><div class="g"><i>解锁</i>(SG)</div><div class="g"><i>解锁</i></div><div class="n">N/A</div><div class="g"><i>解锁</i>(VN)</div><div class="g"><i>解锁</i>(US)</div><div class="g"><i>允许注册</i>(VN)</div><div class="g"><i>货币</i><b>:</b>VND</div><div>FullCone</div></div>
<div class="r"><div>67</div><div class="nm"><i>菲律宾</i>-01</div><div>Shadowsocks</div><div class="p" style="background:#ff2c43">17.22MB</div><div class="p" style="background:#ff0e16">22.48MB</div><div>120ms</div><div>463ms</div><div class="g"><i>解锁</i>(PH)</div><div class="g"><i>解锁</i>(PH)</div><div class="g"><i>解锁</i>(<i>港澳台</i>)</div><div class="g"><i>解锁</i></div><div class="g"><i>解锁</i>(SG)</div><div class="g"><i>解锁</i>(SG)</div><div class="n">N/A</div><div class="n">N/A</div><div class="g"><i>解锁</i>(PH)</div><div class="g"><i>解锁</i>(US)</div><div class="g"><i>允许注册</i>(PH)</div><div class="g"><i>货币</i><b>:</b>PHP</div><div>FullCone</div></div>
<div class="r"><div>68</div><div class="nm"><i>泰国</i>-01</div><div>Shadowsocks</div><div class="p" style="background:#ff3958">14.76MB</div><div class="p" style="background:#ff0000">27.23MB</div><div>157ms</div><div>477ms</div><div class="s"><i>自制</i></div><div class="g"><i>解锁</i>(TH)</div><div class="g"><i>解锁</i>(<i>港澳台</i>)</div><div class="g"><i>解锁</i></div><div class="g"><i>解锁</i>(SG)</div><div class="g"><i>解锁</i>(SG)</div><div class="g"><i>解锁</i></div><div class="n">N/A</div><div class="g"><i>解锁</i>(TH)</div><div class="g"><i>解锁</i>(US)</div><div class="g"><i>允许注册</i>(TH)</div><div class="g"><i>货币</i><b>:</b>THB</div><div style="letter-spacing:1.55px">Unknown</div></div>
<div class="r"><div>69</div><div class="nm"><i>印度</i>-01</div><div>Shadowsocks</div><div class="p" style="background:#ff0000">56.81MB</div><div class="p" style="background:#ff0000">68.78MB</div><div>154ms</div><div>520ms</div><div class="g"><i>解锁</i>(SG)</div><div class="g"><i>解锁</i>(IN)</div><div class="g"><i>解锁</i>(<i>港澳台</i>)</div><div class="g"><i>解锁</i></div><div class="g"><i>解锁</i>(SG)</div><div class="g"><i>解锁</i>(SG)</div><div class="g"><i>解锁</i></div><div class="n">N/A</div><div class="x"><i>失败</i></div><div class="g"><i>解锁</i>(US)</div><div class="g"><i>允许注册</i>(IN)</div><div class="g"><i>货币</i><b>:</b>INR</div><div>FullCone</div></div>
<div class="r"><div>70</div><div class="nm"><i>德国</i>-01</div><div>Shadowsocks</div><div class="p" style="background:#ff131e">21.54MB</div><div class="p" style="background:#ff0000">38.33MB</div><div>331ms</div><div>1024ms</div><div class="s"><i>自制</i></div><div class="g"><i>解锁</i>(US)</div><div class="g"><i>解锁</i>(<i>港澳台</i>)</div><div class="g"><i>解锁</i></div><div class="x"><i>失败</i></div><div class="g"><i>解锁</i>(DE)</div><div class="g"><i>解锁</i></div><div class="n">N/A</div><div class="g"><i>解锁</i>(TW)</div><div>-</div><div class="g"><i>允许注册</i>(DE)</div><div class="g"><i>货币</i><b>:</b>EUR</div><div>FullCone</div></div>
<div class="r"><div>71</div><div class="nm"><i>法国</i>-01</div><div>Shadowsocks</div><div class="p" style="background:#7cfc00">51.45KB</div><div class="p" style="background:#adff10">227.81KB</div><div>255ms</div><div>1789ms</div><div class="s"><i>自制</i></div><div class="g"><i>解锁</i>(FR)</div><div class="x"><i>失败</i></div><div class="g"><i>解锁</i></div><div class="x"><i>失败</i></div><div class="g"><i>解锁</i>(FR)</div><div>-</div><div class="n">N/A</div><div class="g"><i>解锁</i>(FR)</div><div class="w" style="letter-spacing:-0.25px">Web Only(FR)</div><div class="g"><i>允许注册</i>(FR)</div><div class="g"><i>货币</i><b>:</b>EUR</div><div style="letter-spacing:1.55px">Unknown</div></div>
<div class="r"><div>72</div><div class="nm"><i>英国</i>-01</div><div>Shadowsocks</div><div class="p" style="background:#ff6093">7.91MB</div><div class="p" style="background:#ff0d14">22.69MB</div><div>288ms</div><div>866ms</div><div class="g"><i>解锁</i>(GB)</div><div class="g"><i>解锁</i>(US)</div><div class="x"><i>失败</i></div><div class="n"><i>失败</i></div><div class="x"><i>失败</i></div><div class="g"><i>解锁</i>(GB)</div><div>-</div><div class="n">N/A</div><div class="g"><i>解锁</i>(GB)</div><div class="g"><i>解锁</i>(GB)</div><div class="g"><i>允许注册</i>(GB)</div><div class="g"><i>货币</i><b>:</b>GBP</div><div>FullCone</div></div>
<div class="r"><div>73</div><div class="nm"><i>阿根廷</i>-01</div><div>Shadowsocks</div><div class="p" style="background:#ff8dac">3.74MB</div><div class="p" style="background:#ff4e77">11.14MB</div><div>429ms</div><div>1260ms</div><div class="k"><i>未知</i></div><div class="o"><i>送中</i>(CN)</div><div class="g"><i>解锁</i>(<i>港澳台</i>)</div><div class="g"><i>解锁</i></div><div class="n"><i>查询失败</i></div><div class="g"><i>解锁</i>(AR)</div><div class="g"><i>解锁</i></div><div class="n">N/A</div><div class="g"><i>解锁</i>(AR)</div><div class="g"><i>解锁</i>(US)</div><div class="g"><i>允许注册</i>(AR)</div><div class="g"><i>货币</i><b>:</b>USD</div><div>FullCone</div></div>
<div class="r"><div>74</div><div class="nm"><i>阿根廷</i>-02</div><div>Shadowsocks</div><div class="p" style="background:#ff5988">9.14MB</div><div class="p" style="background:#ff0101">24.86MB</div><div>442ms</div><div>1334ms</div><div class="k"><i>未知</i></div><div class="o"><i>送中</i>(CN)</div><div class="g"><i>解锁</i>(<i>港澳台</i>)</div><div class="g"><i>解锁</i></div><div class="n"><i>查询失败</i></div><div class="g"><i>解锁</i>(AR)</div><div class="g"><i>解锁</i></div><div class="n">N/A</div><div class="g"><i>解锁</i>(AR)</div><div>-</div><div class="g"><i>允许注册</i>(AR)</div><div class="g"><i>货币</i><b>:</b>USD</div><div>FullCone</div></div>
<div class="f" style="position:relative;padding-left:68px;letter-spacing:-1.15px"><svg width="28" height="28" viewBox="0 0 36 36" style="position:absolute;left:24px;top:14px"><rect width="36" height="36" rx="4" fill="#72b34c"/><path d="M8.500 20l7.500 6.500L28 9.500" fill="none" stroke="#fff" stroke-width="6" stroke-linecap="round" stroke-linejoin="round"/></svg><i>已核实</i> TLS <i>证书。</i>TLS RTT <i>为单次数据交换延迟，</i> HTTPS Ping <i>为单次请求体感延迟。</i></div>
<div class="f" style="letter-spacing:0.95px;line-height:55px"><i>主端</i>=4.3.3 (697) <i>喵速</i>=4.3.6-Meta (A-<i>天津联通</i>-<i>单线程</i>@1000M), <i>线程</i>=1 <i>概要</i>=74/74 <i>排序</i>=<i>订阅原序</i> <i>过滤器</i>=</div>
<div class="f" style="line-height:55px"><i>测试时间</i><b>:</b>2024-10-09 19:58:55 (CST)<i>，本测试为试验性结果，仅供参考。</i></div>
</div>
<div id="vt">天<br>津<br>联<br>通</div>
<div class="wm" style="left:1856.4px;top:21.4px">DuYao</div>
<div class="wm" style="left:1855.7px;top:332.2px">DuYao</div>
<div class="wm" style="left:1855.0px;top:643.0px">DuYao</div>
<div class="wm" style="left:1854.3px;top:953.8px">DuYao</div>
<div class="wm" style="left:1853.6px;top:1264.6px">DuYao</div>
<div class="wm" style="left:1852.9px;top:1575.4px">DuYao</div>
<div class="wm" style="left:1852.2px;top:1886.2px">DuYao</div>
<div class="wm" style="left:1851.5px;top:2197.0px">DuYao</div>
<div class="wm" style="left:1850.8px;top:2507.8px">DuYao</div>
<div class="wm" style="left:1850.1px;top:2818.6px">DuYao</div>
<div class="wm" style="left:1849.4px;top:3129.4px">DuYao</div>
<div class="wm" style="left:1848.7px;top:3440.2px">DuYao</div>
<div class="wm" style="left:1848.0px;top:3751.0px">DuYao</div>
<div class="wm" style="left:1847.3px;top:4061.8px">DuYao</div>
<div class="wm" style="left:1846.6px;top:4372.6px">DuYao</div>
<div style="position:absolute;left:0;top:0;width:4290px;height:4578px;border:1px solid #fff"></div>
</div></body></html>
